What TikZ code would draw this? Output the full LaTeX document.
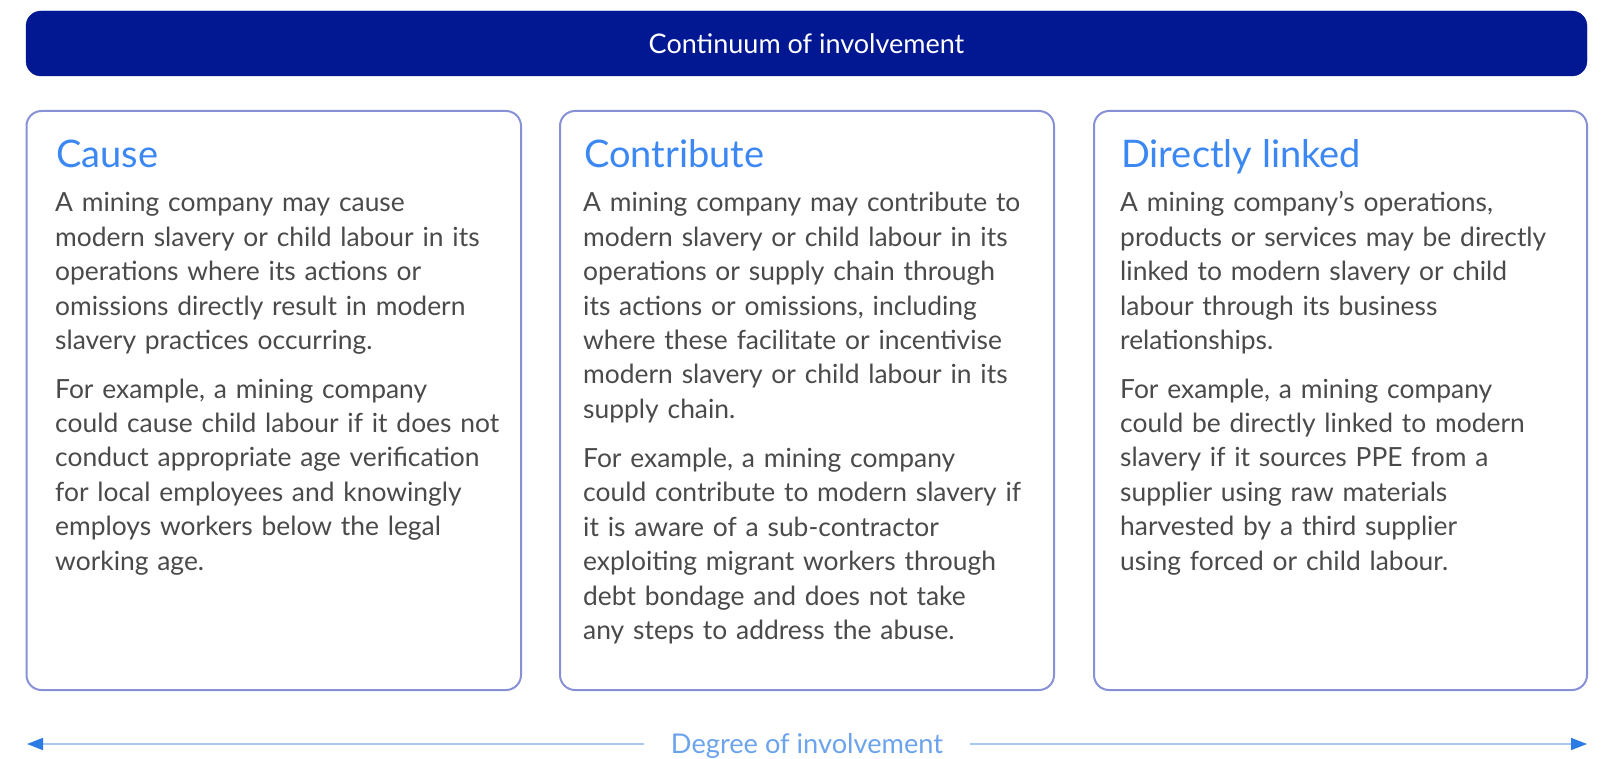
\documentclass[tikz,border=0pt]{standalone}
\usepackage{fontspec}
\setmainfont{Lato}
\usetikzlibrary{arrows.meta}

\definecolor{bannerblue}{RGB}{2,24,147}
\definecolor{boxedge}{RGB}{136,145,214}
\definecolor{headblue}{RGB}{59,135,243}
\definecolor{bodygrey}{RGB}{74,74,74}
\definecolor{tipblue}{RGB}{44,123,229}
\definecolor{lineblue}{RGB}{166,200,243}
\definecolor{degblue}{RGB}{107,163,236}

\tikzset{
  banner/.style={fill=bannerblue, draw=bannerblue, rounded corners=15pt},
  card/.style={draw=boxedge, line width=2pt, fill=white, rounded corners=15pt},
  cardhead/.style={anchor=base west, inner sep=0pt, text=headblue,
    font=\fontsize{38}{42}\selectfont},
  cardbody/.style={anchor=base west, inner sep=0pt, text=bodygrey,
    text width=470pt, align=left, font=\fontsize{26.4}{34.4}\selectfont},
  scale line/.style={draw=lineblue, line width=1.6pt,
    -{Triangle[length=16pt,width=12pt,color=tipblue]}},
}

\begin{document}
\begin{tikzpicture}[x=1pt,y=-1pt]
\useasboundingbox (0,0) rectangle (1603,759);

% title banner
\draw[banner] (26,11) rectangle (1587,76);
\node[text=white, font=\fontsize{27}{32}\selectfont] (title) at (806.5,43.5) {Continuum of involvement};

% three cards
\draw[card] (26.5,111) rectangle (521,690);
\draw[card] (560,111) rectangle (1054,690);
\draw[card] (1094,111) rectangle (1587,690);

% card 1: cause
\node[cardhead] (h1) at (56,168) {Cause};
\node[cardbody] (c1a) at (55,212) {A mining company may cause\\
modern slavery or child labour in its\\
operations where its actions or\\
omissions directly result in modern\\
slavery practices occurring.};
\node[cardbody] (c1b) at (55,398) {For example, a mining company\\
could cause child labour if it does not\\
conduct appropriate age verification\\
for local employees and knowingly\\
employs workers below the legal\\
working age.};

% card 2: contribute
\node[cardhead] (h2) at (584,168) {Contribute};
\node[cardbody] (c2a) at (583,212) {A mining company may contribute to\\
modern slavery or child labour in its\\
operations or supply chain through\\
its actions or omissions, including\\
where these facilitate or incentivise\\
modern slavery or child labour in its\\
supply chain.};
\node[cardbody] (c2b) at (583,467.5) {For example, a mining company\\
could contribute to modern slavery if\\
it is aware of a sub-contractor\\
exploiting migrant workers through\\
debt bondage and does not take\\
any steps to address the abuse.};

% card 3: directly linked
\node[cardhead] (h3) at (1121,168) {Directly linked};
\node[cardbody] (c3a) at (1120,212) {A mining company’s operations,\\
products or services may be directly\\
linked to modern slavery or child\\
labour through its business\\
relationships.};
\node[cardbody] (c3b) at (1120,398) {For example, a mining company\\
could be directly linked to modern\\
slavery if it sources PPE from a\\
supplier using raw materials\\
harvested by a third supplier\\
using forced or child labour.};

% degree scale along the bottom
\coordinate (endL) at (27,744);
\coordinate (endR) at (1587,744);
\node[anchor=base, text=degblue, inner xsep=27pt, inner ysep=0pt,
  font=\fontsize{27.2}{31}\selectfont] (deg) at (807,753) {Degree of involvement};
\draw[scale line] (deg.west |- endL) -- (endL);
\draw[scale line] (deg.east |- endR) -- (endR);
\end{tikzpicture}
\end{document}
